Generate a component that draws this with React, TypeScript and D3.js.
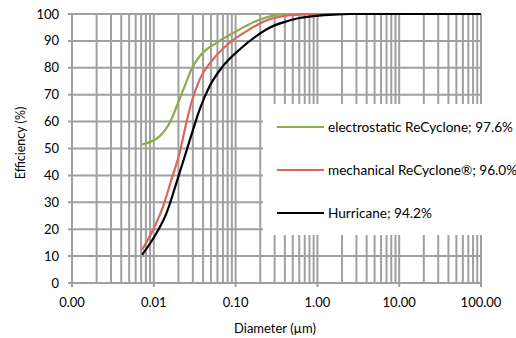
import React, { useEffect, useRef } from "react";
import * as d3 from "d3";

// diameter (µm) / efficiency (%)
const electroD = [0.0072, 0.0118, 0.0164, 0.0198, 0.0239, 0.0288, 0.0364, 0.0582, 0.102, 0.179, 0.27, 0.4, 1, 100];
const electroE = [51.5, 54.6, 60.8, 67, 73.2, 79.4, 84.3, 89.3, 93.6, 97.4, 99.2, 99.9, 100, 100];

const mechD = [0.0072, 0.0098, 0.013, 0.0164, 0.0207, 0.0239, 0.0288, 0.0364, 0.0528, 0.0845, 0.148, 0.237, 0.4, 0.7, 1, 100];
const mechE = [12.4, 19.8, 28.5, 38.4, 48.4, 57, 67, 75.7, 83.1, 89.3, 94.3, 97.6, 99.3, 99.9, 100, 100];

const hurrD = [0.0072, 0.0108, 0.0143, 0.0189, 0.0239, 0.0302, 0.0364, 0.0482, 0.07, 0.112, 0.179, 0.26, 0.375, 0.6, 0.96, 1.6, 2.5, 100];
const hurrE = [10.5, 18.6, 26, 37.2, 47.1, 57, 64.5, 73.2, 80.6, 86.8, 91.8, 94.9, 96.8, 98.5, 99.3, 99.8, 100, 100];

const seriesNames = ["electrostatic ReCyclone; 97.6%", "mechanical ReCyclone®; 96.0%", "Hurricane; 94.2%"];
const seriesColors = ["#8eac4b", "#d9675f", "#000000"];
const xTickLabels = ["0.00", "0.01", "0.10", "1.00", "10.00", "100.00"];
const yTicks = [0, 10, 20, 30, 40, 50, 60, 70, 80, 90, 100];

export default function App() {
  const ref = useRef<SVGSVGElement>(null);

  useEffect(() => {
    const svg = d3.select(ref.current);
    svg.selectAll("*").remove();

    const width = 516, height = 338;
    const left = 72, right = 481, top = 14, bottom = 283;
    const font = "Lato, 'Open Sans', sans-serif";
    const grid = "#a0a0a0";

    svg.attr("width", width).attr("height", height);

    const x = d3.scaleLog().domain([0.001, 100]).range([left, right]);
    const y = d3.scaleLinear().domain([0, 100]).range([bottom, top]);

    // vertical grid at every 1..9 of each decade
    const minor: number[] = [];
    for (let e = -3; e < 2; e++) for (let m = 1; m <= 9; m++) minor.push(m * Math.pow(10, e));
    minor.push(100);

    const g = svg.append("g");
    g.selectAll(".vg").data(minor).enter().append("line")
      .attr("x1", d => x(d)).attr("x2", d => x(d))
      .attr("y1", top).attr("y2", bottom)
      .attr("stroke", grid).attr("stroke-width", 2);

    g.selectAll(".hg").data(yTicks).enter().append("line")
      .attr("x1", left - 4).attr("x2", right)
      .attr("y1", d => y(d)).attr("y2", d => y(d))
      .attr("stroke", grid).attr("stroke-width", 2);

    // major ticks below the axis
    const majors = [0.001, 0.01, 0.1, 1, 10, 100];
    g.selectAll(".xt").data(majors).enter().append("line")
      .attr("x1", d => x(d)).attr("x2", d => x(d))
      .attr("y1", bottom).attr("y2", bottom + 4)
      .attr("stroke", grid).attr("stroke-width", 2);

    // tick labels
    svg.selectAll(".xl").data(majors).enter().append("text")
      .attr("x", d => x(d)).attr("y", 307)
      .attr("text-anchor", "middle")
      .attr("font-family", font).attr("font-size", 13).attr("fill", "#000")
      .text((d, i) => xTickLabels[i]);

    svg.selectAll(".yl").data(yTicks).enter().append("text")
      .attr("x", 59).attr("y", d => y(d) + 4.5)
      .attr("text-anchor", "end")
      .attr("font-family", font).attr("font-size", 13).attr("fill", "#000")
      .text(d => d);

    svg.append("text")
      .attr("x", 275).attr("y", 333)
      .attr("text-anchor", "middle")
      .attr("font-family", font).attr("font-size", 13).attr("fill", "#000")
      .text("Diameter (µm)");

    svg.append("text")
      .attr("transform", "translate(25,143) rotate(-90)")
      .attr("text-anchor", "middle")
      .attr("font-family", font).attr("font-size", 12.5).attr("fill", "#000")
      .text("Efficiency (%)");

    // legend box hides the grid behind it
    svg.append("rect")
      .attr("x", 263).attr("y", 104).attr("width", 253).attr("height", 131)
      .attr("fill", "#fff");

    const line = d3.line<[number, number]>()
      .x(d => x(d[0])).y(d => y(d[1]))
      .curve(d3.curveMonotoneX);

    const series = [
      d3.zip(electroD, electroE),
      d3.zip(mechD, mechE),
      d3.zip(hurrD, hurrE),
    ] as [number, number][][];

    svg.selectAll(".series").data(series).enter().append("path")
      .attr("d", d => line(d))
      .attr("fill", "none")
      .attr("stroke", (d, i) => seriesColors[i])
      .attr("stroke-width", 2.2)
      .attr("stroke-linejoin", "round");

    const legY = [127, 170, 213];
    const leg = svg.selectAll(".leg").data(seriesNames).enter().append("g");
    leg.append("line")
      .attr("x1", 277).attr("x2", 324)
      .attr("y1", (d, i) => legY[i]).attr("y2", (d, i) => legY[i])
      .attr("stroke", (d, i) => seriesColors[i]).attr("stroke-width", 2.2);
    leg.append("text")
      .attr("x", 328).attr("y", (d, i) => legY[i] + 4.5)
      .attr("font-family", font).attr("font-size", 13.6).attr("fill", "#000")
      .text(d => d);
  }, []);

  return <svg ref={ref} style={{ position: "absolute", left: 0, top: 0 }}></svg>;
}
